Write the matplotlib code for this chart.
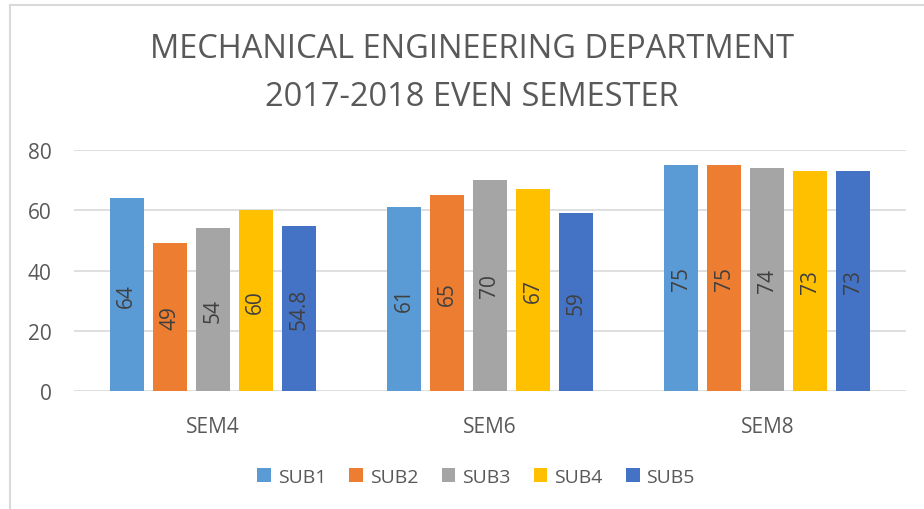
import numpy as np
import matplotlib
matplotlib.use("Agg")
import matplotlib.pyplot as plt
from matplotlib.lines import Line2D

plt.rcParams["font.family"] = ["Open Sans", "DejaVu Sans"]

semesters = ["SEM4", "SEM6", "SEM8"]
subjects = ["SUB1", "SUB2", "SUB3", "SUB4", "SUB5"]
sub1 = [64, 61, 75]
sub2 = [49, 65, 75]
sub3 = [54, 70, 74]
sub4 = [60, 67, 73]
sub5 = [54.8, 59, 73]
series = [sub1, sub2, sub3, sub4, sub5]
colors = ["#5B9BD5", "#ED7D31", "#A5A5A5", "#FFC000", "#4472C4"]

text_color = "#595959"
fs = 15
W, H = 924, 510
fig = plt.figure(figsize=(W / 100, H / 100), dpi=100)
ax = fig.add_axes([74 / W, 1 - 392 / H, (906 - 74) / W, (392 - 151) / H])

x = np.arange(len(semesters))
width = 0.123
step = 0.155
for i, (name, vals, c) in enumerate(zip(subjects, series, colors)):
    pos = x + (i - 2) * step
    bars = ax.bar(pos, vals, width, color=c, label=name, zorder=3)
    for b, v in zip(bars, vals):
        ax.text(b.get_x() + b.get_width() / 2, v / 2, f"{v:g}", rotation=90,
                ha="center", va="center", fontsize=fs, color="#404040", zorder=4)

ax.set_xlim(-0.5, 2.5)
ax.set_ylim(0, 80)
ax.set_yticks([0, 20, 40, 60, 80])
ax.yaxis.grid(True, color="#D9D9D9", linewidth=1.2, zorder=0)
ax.set_xticks(x)
ax.set_xticklabels(semesters)
ax.tick_params(axis="both", length=0, labelsize=fs, colors=text_color)
ax.tick_params(axis="x", pad=18)
ax.tick_params(axis="y", pad=16)
for s in ax.spines.values():
    s.set_visible(False)

fig.text(472 / W, 1 - 50 / H, "MECHANICAL ENGINEERING DEPARTMENT", ha="center",
         va="center", fontsize=23.5, color=text_color)
fig.text(472 / W, 1 - 97 / H, "2017-2018 EVEN SEMESTER", ha="center",
         va="center", fontsize=23.5, color=text_color)

fig.legend(loc="center", bbox_to_anchor=(476 / W, 1 - 478 / H), ncol=5,
           frameon=False, fontsize=14, labelcolor=text_color,
           handlelength=0.7, handleheight=0.7, handletextpad=0.35, columnspacing=1.2)

# chart area border (top and left edges visible)
fig.add_artist(Line2D([10 / W, 10 / W], [0, 1 - 6 / H], transform=fig.transFigure,
                      color="#D9D9D9", linewidth=1.5))
fig.add_artist(Line2D([10 / W, 1], [1 - 6 / H, 1 - 6 / H], transform=fig.transFigure,
                      color="#D9D9D9", linewidth=1.5))

fig.savefig("out.png", dpi=100)
